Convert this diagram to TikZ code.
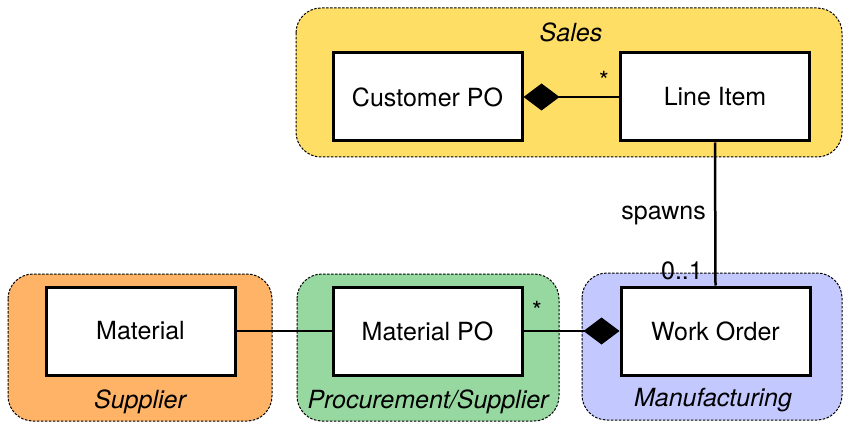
\documentclass[tikz,border=0pt]{standalone}
\usepackage{fontspec}
\setmainfont{TeX Gyre Heros}
\usetikzlibrary{arrows.meta}
\definecolor{salesc}{HTML}{FFDE66}
\definecolor{supplc}{HTML}{FFB366}
\definecolor{procc}{HTML}{97D8A0}
\definecolor{manuc}{HTML}{C3C9FF}
\begin{document}
\begin{tikzpicture}[x=1pt,y=-1pt,
  every node/.style={font=\fontsize{25pt}{30pt}\selectfont},
  group/.style={draw=black,line width=1pt,dash pattern=on 2.5pt off 1.5pt,rounded corners=25pt},
  classbox/.style={draw=black,fill=white,line width=3pt,minimum width=189pt,minimum height=88pt,inner sep=0pt},
  conn/.style={draw=black,line width=2.5pt},
  comp/.style={conn,-{Diamond[length=36pt,width=27pt]}},
  glabel/.style={font=\fontsize{25pt}{30pt}\selectfont\itshape,inner sep=0pt},
  mult/.style={inner sep=0pt}]
\useasboundingbox (0,0) rectangle (843,422);
% groups
\fill[salesc,rounded corners=25pt] (296,8) rectangle (842,157);
\draw[group] (296,8) rectangle (842,157);
\fill[supplc,rounded corners=25pt] (8,274) rectangle (272,421);
\draw[group] (8,274) rectangle (272,421);
\fill[procc,rounded corners=25pt] (297,274) rectangle (559,421);
\draw[group] (297,274) rectangle (559,421);
\fill[manuc,rounded corners=25pt] (582,273) rectangle (842,420);
\draw[group] (582,273) rectangle (842,420);
% group labels
\node[glabel] (lsales) at (571,32) {Sales};
\node[glabel] (lsup) at (140,402) {Supplier};
\node[glabel] (lproc) at (428,402) {Procurement/Supplier};
\node[glabel] (lmanu) at (713,400) {Manufacturing};
% classes
\node[classbox] (cpo) at (427.5,97) {Customer PO};
\node[classbox] (li) at (715,97) {Line Item};
\node[classbox] (mat) at (140.5,331) {Material};
\node[classbox] (mpo) at (427.5,331) {Material PO};
\node[classbox] (wo) at (715.5,331) {Work Order};
% connectors
\draw[comp] (li.west) -- (cpo.east);
\draw[conn] (li.south) -- (wo.north);
\draw[conn] (mat.east) -- (mpo.west);
\draw[comp] (mpo.east) -- (wo.west);
% multiplicities / labels
\node[mult] (m1) at (604,80) {*};
\node[mult] (m2) at (537,310) {*};
\node[mult,anchor=east] (m3) at (703,271) {0..1};
\node[mult,anchor=east] (m4) at (706,215) {spawns};
\end{tikzpicture}
\end{document}
